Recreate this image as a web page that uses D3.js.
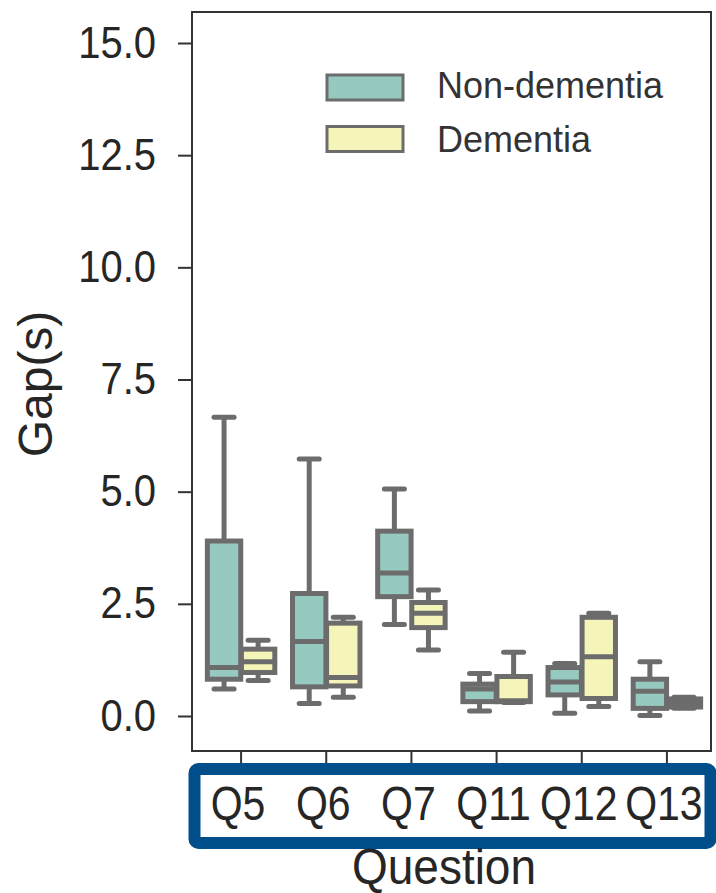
<!DOCTYPE html>
<html>
<head>
<meta charset="utf-8">
<script src="https://cdn.jsdelivr.net/npm/d3@7"></script>
<style>
  html, body { margin: 0; padding: 0; background: #fff; }
  svg { display: block; font-family: "Liberation Sans", Arial, sans-serif; }
</style>
</head>
<body>
<svg id="chart" width="716" height="893"></svg>
<script>
// ---- data ----
const categories = ["Q5", "Q6", "Q7", "Q11", "Q12", "Q13"];
const groups = ["Non-dementia", "Dementia"];
// [min, q1, median, q3, max] per category
const nonDementiaStats = [
  [0.60, 0.82, 1.08, 3.90, 6.66],
  [0.28, 0.65, 1.66, 2.73, 5.73],
  [2.04, 2.66, 3.19, 4.12, 5.06],
  [0.11, 0.32, 0.60, 0.71, 0.95],
  [0.06, 0.47, 0.76, 1.08, 1.17],
  [0.01, 0.17, 0.55, 0.82, 1.21]
];
const dementiaStats = [
  [0.79, 0.97, 1.21, 1.49, 1.69],
  [0.42, 0.67, 0.86, 2.07, 2.20],
  [1.47, 1.97, 2.29, 2.53, 2.81],
  [0.30, 0.32, 0.34, 0.88, 1.42],
  [0.21, 0.39, 1.32, 2.20, 2.29],
  [0.17, 0.20, 0.29, 0.38, 0.42]
];
const yTicks = [0, 2.5, 5, 7.5, 10, 12.5, 15];
const groupColors = ["#96cac1", "#f5f5b9"];

// ---- layout ----
const svg = d3.select("#chart");
const frame = { left: 192, right: 711, top: 12, bottom: 751 };
const y = d3.scaleLinear().domain([0, 15]).range([716, 43]);
const x = d3.scaleBand().domain(categories).range([198.5, 709.5]).paddingInner(0).paddingOuter(0);
const xg = d3.scaleBand().domain(groups).range([0, x.bandwidth() * 0.8]);
const boxW = xg.bandwidth() * 0.98;
const gray = "#6c6c6c";
const ink = "#262626";

// blue highlight box behind x labels
svg.append("rect")
  .attr("x", 194.5).attr("y", 769).attr("width", 516).attr("height", 74)
  .attr("rx", 4).attr("fill", "none")
  .attr("stroke", "#004e8a").attr("stroke-width", 12);

// boxes
const rows = [];
categories.forEach((c, i) => {
  rows.push({ cat: c, group: groups[0], s: nonDementiaStats[i], color: groupColors[0] });
  rows.push({ cat: c, group: groups[1], s: dementiaStats[i], color: groupColors[1] });
});
const boxG = svg.append("g");
rows.forEach(r => {
  const cx = x(r.cat) + x.bandwidth() * 0.1 + xg(r.group) + xg.bandwidth() / 2;
  const [mn, q1, md, q3, mx] = r.s;
  const g = boxG.append("g").attr("stroke", gray).attr("stroke-width", 5);
  // whiskers
  g.append("line").attr("x1", cx).attr("x2", cx).attr("y1", y(q3)).attr("y2", y(mx));
  g.append("line").attr("x1", cx).attr("x2", cx).attr("y1", y(q1)).attr("y2", y(mn));
  // caps
  [mn, mx].forEach(v => g.append("line")
    .attr("x1", cx - boxW * 0.3).attr("x2", cx + boxW * 0.3)
    .attr("y1", y(v)).attr("y2", y(v)).attr("stroke-linecap", "round"));
  // box
  g.append("rect").attr("x", cx - boxW / 2).attr("width", boxW)
    .attr("y", y(q3)).attr("height", y(q1) - y(q3))
    .attr("fill", r.color);
  // median
  g.append("line").attr("x1", cx - boxW / 2).attr("x2", cx + boxW / 2)
    .attr("y1", y(md)).attr("y2", y(md));
});

// frame
svg.append("rect")
  .attr("x", frame.left).attr("y", frame.top)
  .attr("width", frame.right - frame.left).attr("height", frame.bottom - frame.top)
  .attr("fill", "none").attr("stroke", "#333").attr("stroke-width", 2);

// y axis
const yAxis = d3.axisLeft(y).tickValues(yTicks).tickFormat(d3.format(".1f")).tickSize(14).tickPadding(0);
const yG = svg.append("g").attr("transform", `translate(${frame.left},0)`).call(yAxis);
yG.select(".domain").remove();
yG.selectAll(".tick line").attr("stroke", "#333").attr("stroke-width", 2);
yG.selectAll(".tick text")
  .attr("font-size", 40).attr("fill", ink)
  .attr("x", null).attr("dy", null)
  .attr("transform", "translate(-36,14) scale(1,1.12)")
  .attr("text-anchor", "end");

// x axis
const xAxis = d3.axisBottom(x).tickSize(12).tickPadding(0);
const xG = svg.append("g").attr("transform", `translate(0,${frame.bottom})`).call(xAxis);
xG.select(".domain").remove();
xG.selectAll(".tick line").attr("stroke", "#333").attr("stroke-width", 2);
xG.selectAll(".tick text")
  .attr("font-size", 41).attr("fill", ink)
  .attr("y", null).attr("dy", null)
  .attr("transform", "translate(-3,69) scale(1,1.15)")
  .attr("text-anchor", "middle");

// axis titles
svg.append("text").text("Question")
  .attr("font-size", 46).attr("fill", ink).attr("text-anchor", "middle")
  .attr("transform", "translate(444,884) scale(1,1.08)");
svg.append("text").text("Gap(s)")
  .attr("font-size", 48).attr("fill", ink).attr("text-anchor", "middle")
  .attr("transform", "translate(52,384) rotate(-90)");

// legend
const leg = svg.append("g");
groups.forEach((g, i) => {
  leg.append("rect").attr("x", 327).attr("y", 75 + i * 51.5).attr("width", 76).attr("height", 25)
    .attr("fill", groupColors[i]).attr("stroke", gray).attr("stroke-width", 3);
  leg.append("text").text(g).attr("x", 437).attr("y", 98 + i * 53.5)
    .attr("font-size", 36).attr("fill", "#333");
});
</script>
</body>
</html>
